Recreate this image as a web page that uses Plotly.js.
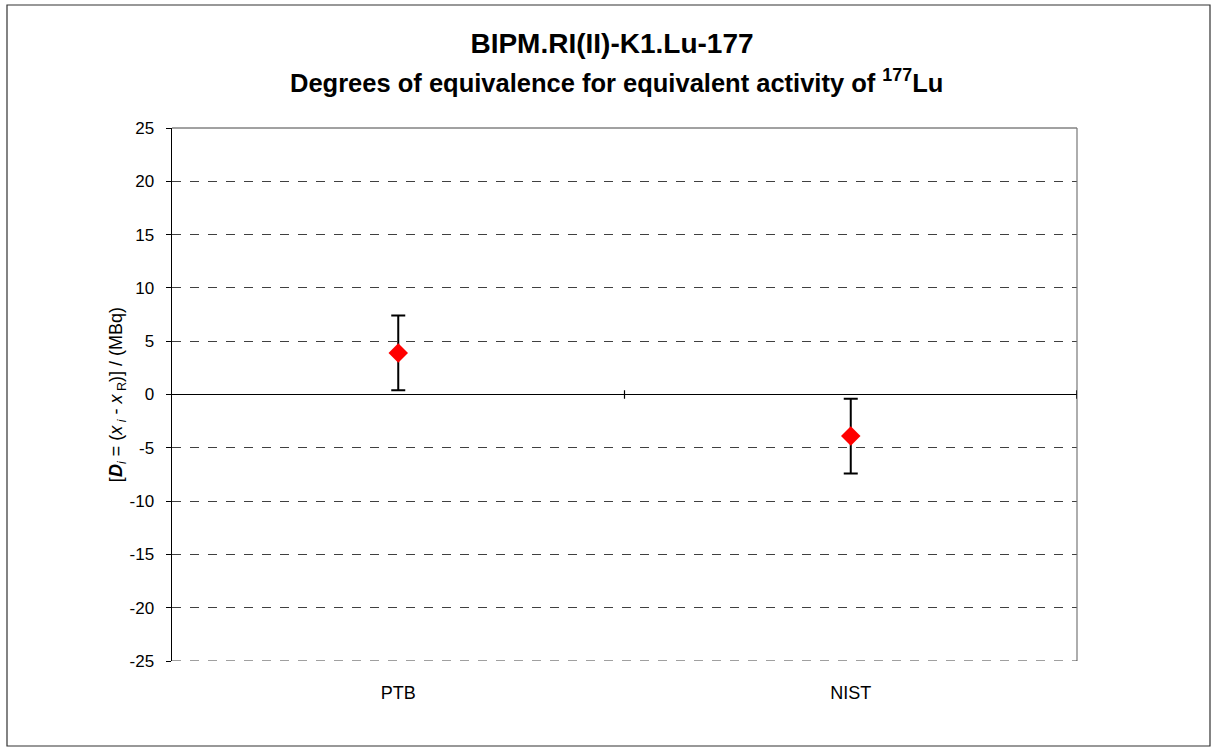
<!DOCTYPE html>
<html><head><meta charset="utf-8">
<script src="https://cdn.plot.ly/plotly-3.0.1.min.js"></script>
<style>html,body{margin:0;padding:0;background:#fff;}#chart{width:1217px;height:752px;}</style>
</head><body><div id="chart"></div>
<script>
const labs = ["PTB", "NIST"];
const doe = [3.9, -3.9];
const unc = [3.5, 3.5];
const yTicks = [-25, -20, -15, -10, -5, 0, 5, 10, 15, 20, 25];
const yTickText = ["-25", "-20", "-15", "-10", "-5", "0", "5", "10", "15", "20", "25"];

const trace = {
  type: 'scatter', mode: 'markers', x: labs, y: doe,
  marker: {symbol: 'diamond', size: 15, color: '#ff0000'},
  error_y: {type: 'data', array: unc, visible: true, color: '#000', thickness: 2, width: 7},
  hoverinfo: 'x+y', showlegend: false
};

const F = 'Arial, "Liberation Sans", sans-serif';
const layout = {
  width: 1217, height: 752,
  margin: {l: 172, r: 140, t: 128, b: 91},
  paper_bgcolor: '#fff', plot_bgcolor: '#fff',
  font: {family: F, color: '#000', size: 17},
  title: {text: '<b>BIPM.RI(II)-K1.Lu-177</b>', font: {family: F, size: 28, color: '#000'},
          x: (612 - 172) / 905, xref: 'paper', xanchor: 'center', y: 1 - 43/752, yref: 'container', yanchor: 'middle'},
  xaxis: {type: 'category', range: [-0.5, 1.5], showgrid: false, zeroline: false, showline: false,
          ticks: 'outside', ticklen: 15, tickcolor: 'rgba(0,0,0,0)', tickfont: {family: F, size: 18}, fixedrange: true},
  yaxis: {range: [-25, 25], tickmode: 'array', tickvals: yTicks, ticktext: yTickText,
          showgrid: true, gridcolor: '#404040', griddash: 'dash', gridwidth: 1,
          zeroline: true, zerolinecolor: '#000', zerolinewidth: 1.5,
          showline: true, linecolor: '#000', linewidth: 1.5, ticks: 'outside', ticklen: 5, tickcolor: '#000',
          ticklabelstandoff: 8,
          tickfont: {family: F, size: 17},
          title: {text: '[<b><i>D</i></b><sub><i>i</i></sub> = (<i>x</i><sub><i> i</i></sub> - <i>x</i><sub> R</sub>)] / (MBq)',
                  font: {family: F, size: 18}, standoff: 2}},
  annotations: [
    {text: '<b>Degrees of equivalence for equivalent activity of <sup>177</sup>Lu</b>', xref: 'paper', yref: 'paper',
     x: (616 - 172) / 905, y: (661 - 81) / 533, xanchor: 'center', yanchor: 'middle', showarrow: false, font: {family: F, size: 25.5, color: '#000'}}
  ],
  shapes: [
    {type: 'rect', xref: 'paper', yref: 'paper', x0: (7 - 172) / 905, x1: (1210 - 172) / 905,
     y0: (661 - 746) / 533, y1: (661 - 5) / 533, line: {color: '#333', width: 1.2}, layer: 'below'},
    {type: 'line', xref: 'paper', yref: 'paper', x0: 0, x1: 1, y0: 1, y1: 1, line: {color: '#444', width: 1}},
    {type: 'line', xref: 'paper', yref: 'paper', x0: 1, x1: 1, y0: 0, y1: 1, line: {color: '#777', width: 1.2}},
    {type: 'line', xref: 'paper', yref: 'y', x0: 0, x1: 1, y0: -25, y1: -25, line: {color: '#404040', width: 1, dash: 'dash'}},
    {type: 'line', xref: 'x', yref: 'y', x0: 0.5, x1: 0.5, y0: -0.4, y1: 0.4, line: {color: '#000', width: 1.2}},
    {type: 'line', xref: 'x', yref: 'y', x0: 1.5, x1: 1.5, y0: -0.4, y1: 0.4, line: {color: '#000', width: 1.5}}
  ]
};
Plotly.newPlot('chart', [trace], layout, {displayModeBar: false, staticPlot: true});
</script></body></html>
